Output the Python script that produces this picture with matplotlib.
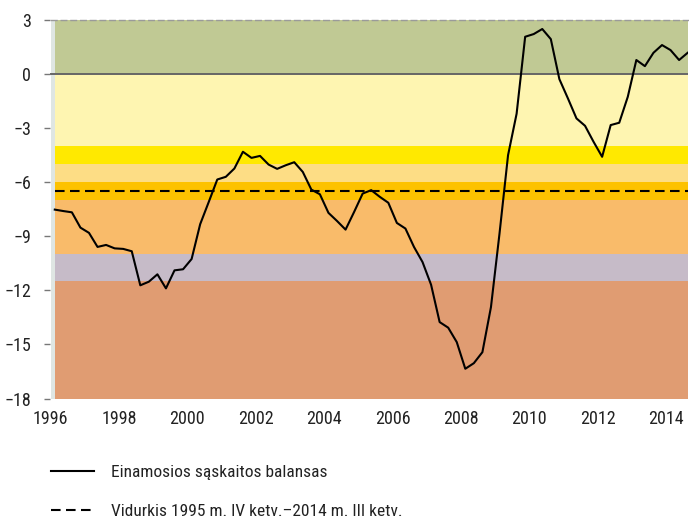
import matplotlib
matplotlib.use("Agg")
import matplotlib.pyplot as plt
import numpy as np

plt.rcParams['font.family'] = ['Roboto Condensed', 'DejaVu Sans']

# Quarterly current account balance (% of GDP), 1996 Q1 ... 2014 Q3
balance = [-7.52, -7.6, -7.67, -8.52, -8.81, -9.59, -9.48, -9.67, -9.70, -9.83,
           -11.72, -11.52, -11.11, -11.89, -10.89, -10.83, -10.26, -8.33, -7.1, -5.85,
           -5.70, -5.24, -4.31, -4.65, -4.54, -5.02, -5.26, -5.06, -4.89, -5.43,
           -6.41, -6.67, -7.70, -8.15, -8.63, -7.65, -6.63, -6.44, -6.81, -7.14,
           -8.26, -8.57, -9.59, -10.43, -11.69, -13.76, -14.07, -14.87, -16.35, -16.04,
           -15.43, -12.93, -8.85, -4.5, -2.2, 2.07, 2.22, 2.5, 1.94, -0.28,
           -1.35, -2.46, -2.87, -3.76, -4.59, -2.83, -2.70, -1.26, 0.78, 0.44,
           1.18, 1.61, 1.33, 0.78, 1.18]
average = -6.5
start_year = 1996
year_ticks = [1996, 1998, 2000, 2002, 2004, 2006, 2008, 2010, 2012, 2014]
y_ticks = [3, 0, -3, -6, -9, -12, -15, -18]

# background bands (lower, upper, colour)
band_low = [0, -4, -5, -6, -7, -10, -11.5, -18]
band_high = [3, 0, -4, -5, -6, -7, -10, -11.5]
band_colors = ['#c0c994', '#fef5b1', '#ffe900', '#fddd85', '#fdc200', '#f9bb6a', '#c6bbc8', '#e09c72']

label_line = 'Einamosios sąskaitos balansas'
label_avg = 'Vidurkis 1995 m. IV ketv.–2014 m. III ketv.'

W, H = 689, 518
fig = plt.figure(figsize=(W / 100, H / 100), dpi=100)
left, right, top, bottom = 50.5, 688, 20, 398.5
ax = fig.add_axes([left / W, 1 - bottom / H, (right - left) / W, (bottom - top) / H])

x = start_year + 0.125 + 0.25 * np.arange(len(balance))
xmin, xmax = start_year, x[-1] + 0.01
ax.set_xlim(xmin, xmax)
ax.set_ylim(-18, 3)

strip = 0.125
for lo, hi, c in zip(band_low, band_high, band_colors):
    ax.fill_between([xmin + strip, xmax], lo, hi, color=c, lw=0, zorder=0)
ax.fill_between([xmin, xmin + strip], -18, 3, color='#dfe6e3', lw=0, zorder=0)

ax.axhline(0, color='#666666', lw=1.4, zorder=1)
avg_line, = ax.plot([xmin + strip, xmax], [average, average], color='black', lw=1.5,
                    dashes=(4.6, 2.6), zorder=2, label=label_avg)
bal_line, = ax.plot(x, balance, color='black', lw=1.5, zorder=3, label=label_line)

for s in ['left', 'right', 'bottom']:
    ax.spines[s].set_visible(False)
ax.spines['top'].set_color('#9a9a9a')
ax.spines['top'].set_linestyle((0, (4, 3)))
ax.spines['top'].set_linewidth(1.0)

ax.set_yticks(y_ticks)
ax.set_yticklabels([str(v).replace('-', '\u2212') for v in y_ticks])
ax.set_xticks(year_ticks)
ax.set_xticklabels([str(v) for v in year_ticks])
ax.tick_params(axis='y', length=4, width=1, color='#777777', pad=10, labelsize=13, labelcolor='#222222')
ax.tick_params(axis='x', length=0, pad=8, labelsize=13, labelcolor='#222222')

fig.legend(handles=[bal_line, avg_line], loc='upper left',
           bbox_to_anchor=(51 / W, 1 - 465 / H), frameon=False, borderpad=0, borderaxespad=0,
           fontsize=12.5, handlelength=2.5, handletextpad=0.95, labelspacing=1.35,
           labelcolor='#222222')

fig.savefig('out.png', dpi=100)
